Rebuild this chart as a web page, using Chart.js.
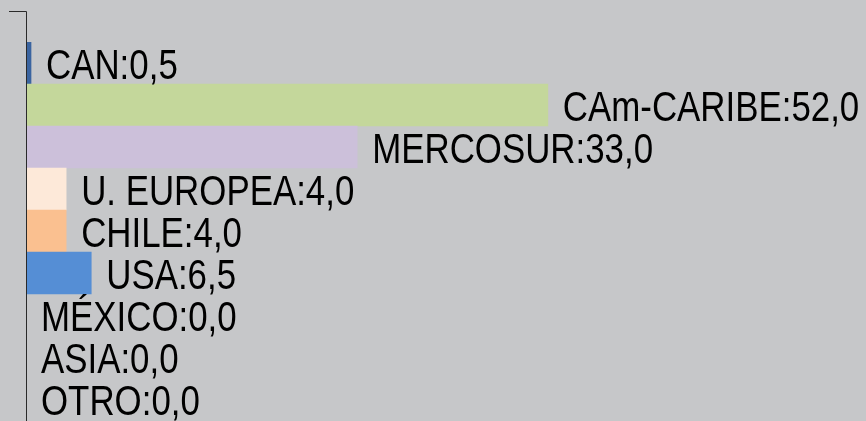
<!DOCTYPE html>
<html>
<head>
<meta charset="utf-8">
<script src="https://cdn.jsdelivr.net/npm/chart.js@4"></script>
<style>
  html, body { margin: 0; padding: 0; background: #c6c7c9; }
  #wrap { width: 866px; height: 421px; }
</style>
</head>
<body>
<div id="wrap"><canvas id="chart" width="866" height="421"></canvas></div>
<script>
// categories and values (top to bottom)
const categories = ["CAN", "CAm-CARIBE", "MERCOSUR", "U. EUROPEA", "CHILE", "USA", "MÉXICO", "ASIA", "OTRO"];
const values = [0.5, 52.0, 33.0, 4.0, 4.0, 6.5, 0.0, 0.0, 0.0];
const barColors = ["#3a64a0", "#c4d79b", "#ccc0da", "#fde9d9", "#fac090", "#558ed5", "#888888", "#888888", "#888888"];

// no narrow face installed, so squeeze a regular sans horizontally
const LABEL_FONT = "42px 'Liberation Sans', Arial, sans-serif";
const NARROW = 0.83;

// draws the vertical axis (extends above the plot) and the small top tick
const axisPlugin = {
  id: "axisLine",
  afterDraw(chart) {
    const ctx = chart.ctx;
    const x = Math.round(chart.chartArea.left) + 0.5;
    ctx.save();
    ctx.strokeStyle = "#2a2a2a";
    ctx.lineWidth = 1;
    ctx.beginPath();
    ctx.moveTo(x, 11.5);
    ctx.lineTo(x, chart.height);
    ctx.moveTo(9, 11.5);
    ctx.lineTo(x, 11.5);
    ctx.stroke();
    ctx.restore();
  }
};

// "NAME:value" label just past the end of every bar
const labelPlugin = {
  id: "barLabels",
  afterDatasetsDraw(chart) {
    const ctx = chart.ctx;
    const meta = chart.getDatasetMeta(0);
    meta.data.forEach((bar, i) => {
      const txt = categories[i] + ":" + values[i].toFixed(1).replace(".", ",");
      ctx.save();
      ctx.font = LABEL_FONT;
      ctx.fillStyle = "#000000";
      ctx.textBaseline = "alphabetic";
      ctx.textAlign = "left";
      ctx.translate(bar.x + 15, bar.y + 16);
      ctx.scale(NARROW, 1);
      ctx.fillText(txt, 0, 0);
      ctx.restore();
    });
  }
};

new Chart(document.getElementById("chart"), {
  type: "bar",
  data: {
    labels: categories,
    datasets: [{
      data: values,
      backgroundColor: barColors,
      borderWidth: 0,
      barPercentage: 1,
      categoryPercentage: 1
    }]
  },
  options: {
    indexAxis: "y",
    responsive: false,
    animation: false,
    layout: { padding: { left: 26, right: 0, top: 42, bottom: 1 } },
    scales: {
      x: { display: false, min: 0, max: 83.7 },
      y: { display: false }
    },
    plugins: {
      legend: { display: false },
      tooltip: { enabled: false }
    }
  },
  plugins: [axisPlugin, labelPlugin]
});
</script>
</body>
</html>
